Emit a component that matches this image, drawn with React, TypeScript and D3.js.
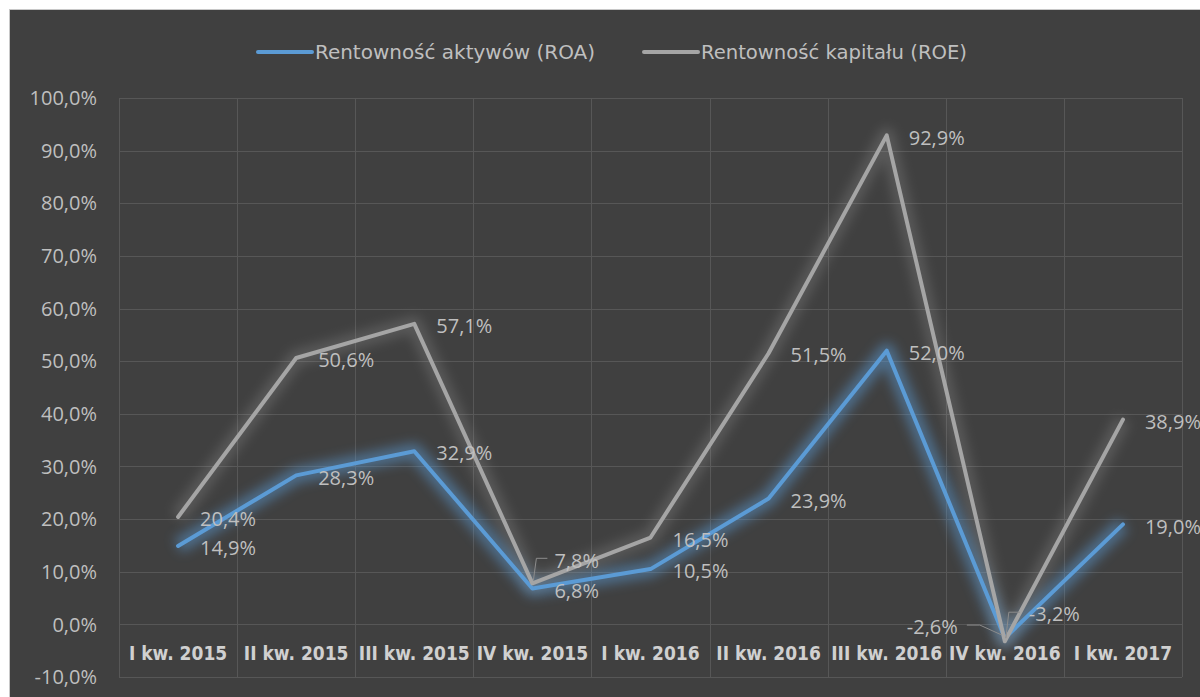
import { useEffect, useRef } from "react";
import * as d3 from "d3";

const categories = [
  "I kw. 2015",
  "II kw. 2015",
  "III kw. 2015",
  "IV kw. 2015",
  "I kw. 2016",
  "II kw. 2016",
  "III kw. 2016",
  "IV kw. 2016",
  "I kw. 2017",
];
const roa = [14.9, 28.3, 32.9, 6.8, 10.5, 23.9, 52.0, -2.6, 19.0];
const roe = [20.4, 50.6, 57.1, 7.8, 16.5, 51.5, 92.9, -3.2, 38.9];
const yTicks = [-10, 0, 10, 20, 30, 40, 50, 60, 70, 80, 90, 100];
const seriesNames = ["Rentowność aktywów (ROA)", "Rentowność kapitału (ROE)"];

const W = 1200;
const H = 697;
const BG = "#404040";
const GRID = "#575757";
const TXT = "#bfbfbf";
const COLORS = ["#5b9bd5", "#a5a5a5"];

// manual label placement tweaks (series index, point index) like the Excel ones
const labelMoves: Record<string, { dx: number; dy: number; anchor?: string; leader?: string }> = {
  "1-3": { dx: 22, dy: -23, leader: "up" },
  "1-7": { dx: 24, dy: -27, leader: "up" },
  "0-7": { dx: -47, dy: -11, anchor: "end", leader: "left" },
};

const fmt = (v: number) => v.toFixed(1).replace(".", ",") + "%";

export default function App() {
  const ref = useRef<SVGSVGElement>(null);

  useEffect(() => {
    document.body.style.margin = "0";
    const svg = d3.select(ref.current);
    svg.selectAll("*").remove();

    svg.append("rect").attr("width", W).attr("height", H).attr("fill", "#ffffff");
    svg
      .append("rect")
      .attr("x", 9.5)
      .attr("y", 9.5)
      .attr("width", W + 20)
      .attr("height", H + 20)
      .attr("fill", BG)
      .attr("stroke", "#c8c8c8");

    const defs = svg.append("defs");
    const glow = defs
      .append("filter")
      .attr("id", "glow")
      .attr("x", "-20%")
      .attr("y", "-20%")
      .attr("width", "140%")
      .attr("height", "140%");
    glow.append("feGaussianBlur").attr("stdDeviation", 6);

    const x = d3.scaleBand().domain(categories).range([119, 1182]);
    const cx = (c: string) => (x(c) ?? 0) + x.bandwidth() / 2;
    const y = d3.scaleLinear().domain([-10, 100]).range([677, 98]);

    // gridlines
    const grid = svg.append("g").attr("stroke", GRID).attr("stroke-width", 1);
    grid
      .selectAll("line.h")
      .data(yTicks)
      .join("line")
      .attr("class", "h")
      .attr("x1", 119)
      .attr("x2", 1182)
      .attr("y1", (d) => Math.round(y(d)) + 0.5)
      .attr("y2", (d) => Math.round(y(d)) + 0.5);
    grid
      .selectAll("line.v")
      .data([...categories.map((c) => x(c) ?? 0), 1182])
      .join("line")
      .attr("class", "v")
      .attr("x1", (d) => Math.round(d) + 0.5)
      .attr("x2", (d) => Math.round(d) + 0.5)
      .attr("y1", y(100))
      .attr("y2", y(-10));

    // y axis labels
    svg
      .append("g")
      .selectAll("text")
      .data(yTicks)
      .join("text")
      .attr("x", 97)
      .attr("y", (d) => y(d))
      .attr("dy", "0.36em")
      .attr("text-anchor", "end")
      .attr("font-family", "'Open Sans', sans-serif")
      .attr("font-size", 20)
      .attr("fill", TXT)
      .text((d) => fmt(d));

    // x axis labels (sit between 0% and -10%)
    svg
      .append("g")
      .selectAll("text")
      .data(categories)
      .join("text")
      .attr("x", (d) => cx(d))
      .attr("y", y(-5.5))
      .attr("dy", "0.36em")
      .attr("text-anchor", "middle")
      .attr("font-family", "'DejaVu Sans Condensed', 'DejaVu Sans', sans-serif")
      .attr("font-stretch", "condensed")
      .attr("font-weight", "bold")
      .attr("font-size", 19)
      .attr("fill", "#d0d0d0")
      .text((d) => d);

    const series = [roa, roe];
    const line = d3
      .line<number>()
      .x((_, i) => cx(categories[i]))
      .y((d) => y(d));

    series.forEach((vals, si) => {
      svg
        .append("path")
        .attr("d", line(vals))
        .attr("fill", "none")
        .attr("stroke", COLORS[si])
        .attr("stroke-width", 16)
        .attr("stroke-linejoin", "round")
        .attr("opacity", si === 0 ? 0.5 : 0.25)
        .attr("filter", "url(#glow)");
    });
    series.forEach((vals, si) => {
      svg
        .append("path")
        .attr("d", line(vals))
        .attr("fill", "none")
        .attr("stroke", COLORS[si])
        .attr("stroke-width", 4)
        .attr("stroke-linejoin", "round")
        .attr("stroke-linecap", "round");
    });

    // data labels
    const lbl = svg.append("g");
    series.forEach((vals, si) => {
      vals.forEach((v, i) => {
        const px = cx(categories[i]);
        const py = y(v);
        const mv = labelMoves[`${si}-${i}`] ?? { dx: 22, dy: 2 };
        const lx = px + mv.dx;
        const ly = py + mv.dy;
        lbl
          .append("text")
          .attr("x", lx)
          .attr("y", ly)
          .attr("dy", "0.36em")
          .attr("text-anchor", mv.anchor ?? "start")
          .attr("font-family", "'Open Sans', sans-serif")
          .attr("font-size", 20)
          .attr("fill", TXT)
          .text(fmt(v));
        if (mv.leader === "up") {
          lbl
            .append("path")
            .attr("d", `M${px + 1},${py - 3}L${px + 4},${ly - 2}L${px + 15},${ly - 2}`)
            .attr("fill", "none")
            .attr("stroke", "#8c8c8c")
            .attr("stroke-width", 1);
        } else if (mv.leader === "left") {
          lbl
            .append("path")
            .attr("d", `M${lx + 9},${ly - 2}L${lx + 22},${ly - 2}L${px - 3},${py - 3}`)
            .attr("fill", "none")
            .attr("stroke", "#8c8c8c")
            .attr("stroke-width", 1);
        }
      });
    });

    // legend
    const leg = svg.append("g");
    const legItems = [
      { x: 258, w: 280 },
      { x: 644, w: 266 },
    ];
    seriesNames.forEach((name, i) => {
      const it = legItems[i];
      leg
        .append("line")
        .attr("x1", it.x)
        .attr("x2", it.x + 54)
        .attr("y1", 52)
        .attr("y2", 52)
        .attr("stroke", COLORS[i])
        .attr("stroke-width", 4)
        .attr("stroke-linecap", "round");
      leg
        .append("text")
        .attr("x", it.x + 57)
        .attr("y", 52)
        .attr("dy", "0.36em")
        .attr("font-family", "'DejaVu Sans Condensed', 'DejaVu Sans', sans-serif")
        .attr("font-stretch", "condensed")
        .attr("font-size", 20)
        .attr("fill", TXT)
        .attr("textLength", it.w)
        .attr("lengthAdjust", "spacingAndGlyphs")
        .text(name);
    });
  }, []);

  return (
    <svg
      ref={ref}
      width={W}
      height={H}
      style={{ position: "absolute", left: 0, top: 0, display: "block" }}
    />
  );
}
